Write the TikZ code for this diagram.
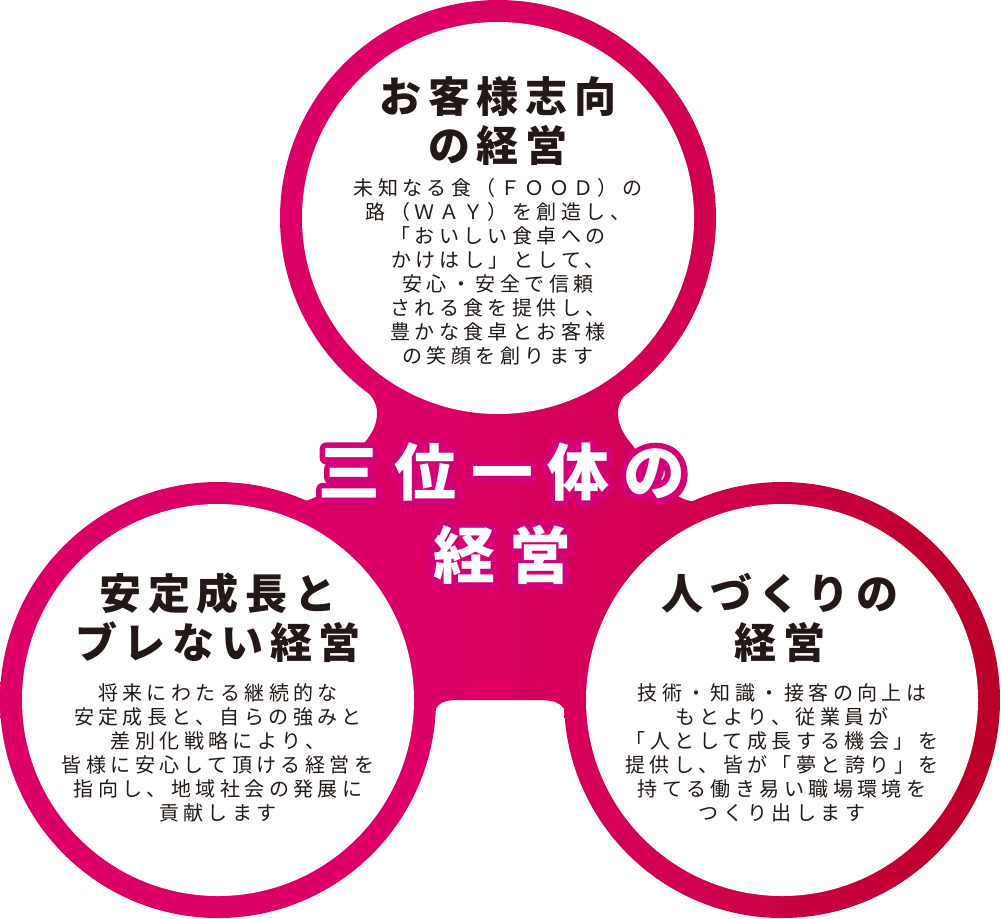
\documentclass[tikz,border=0pt]{standalone}
\usepackage{fontspec}
\newfontfamily\jphead[LetterSpace=16]{Noto Sans CJK JP}
\newfontfamily\jpbody[LetterSpace=22]{Noto Sans CJK JP}
\newfontfamily\jpmid[LetterSpace=23]{Noto Sans CJK JP}
\definecolor{pinkA}{RGB}{220,0,102}
\definecolor{pinkB}{RGB}{208,0,78}
\definecolor{pinkC}{RGB}{186,0,38}
\definecolor{halo}{RGB}{212,0,118}
\definecolor{ink}{RGB}{35,24,21}
\pgfdeclarehorizontalshading{magfade}{100bp}{color(0bp)=(pinkA); color(25bp)=(pinkA); color(47bp)=(pinkA); color(60bp)=(pinkB); color(75bp)=(pinkC); color(100bp)=(pinkC)}
\newcommand\strokeon{\special{pdf:literal direct 2 Tr 3.6 w 1 j 1 J}}
\newcommand\strokeoff{\special{pdf:literal direct 0 Tr}}
\tikzset{
  pinkfill/.style={path picture={\shade[shading=magfade] (0,-5) rectangle (1001,923);}},
  headtext/.style={align=center,inner sep=0pt,text=ink,font=\jphead\bfseries\fontsize{11.95}{13.94}\selectfont},
  bodytext/.style={align=center,inner sep=0pt,text=ink,font=\jpbody\fontsize{5.69}{6.83}\selectfont},
  midtext/.style={align=center,inner sep=0pt,font=\jpmid\bfseries\fontsize{17.6}{23.6}\selectfont}
}
\begin{document}
\begin{tikzpicture}[x=0.01cm,y=-0.01cm]
  \useasboundingbox (0,0) rectangle (1001,918);
  \coordinate (ctop) at (498,218);
  \coordinate (cleft) at (218,700);
  \coordinate (cright) at (782,700);
  % body between the three rings
  \path[pinkfill] (ctop) -- (345,372) .. controls (368,390) and (378,400) .. (377,415)
    .. controls (376,428) and (370,436) .. (362,446) .. controls (345,468) and (330,495) .. (305,501)
    .. controls (292,503) and (282,498) .. (268,490) -- (cleft) -- (433,735) -- (433,725)
    .. controls (433,705) and (440,700) .. (458,700) -- (537,700) .. controls (560,700) and (567,705) .. (567,725)
    -- (567,735) -- (cright) -- (727,490) .. controls (713,498) and (703,503) .. (690,501)
    .. controls (665,495) and (650,468) .. (633,446) .. controls (625,436) and (619,428) .. (618,415)
    .. controls (617,400) and (627,390) .. (650,372) -- cycle;
  \foreach \c in {ctop,cleft,cright} {
    \path[pinkfill] (\c) circle (218);
    \fill[white] (\c) circle (196);
  }
  \node[headtext] (topHead) at (498,121) {お客様志向\\の経営};
  \node[bodytext] (topBody) at (498,272) {未知なる食（ＦＯＯＤ）の\\路（ＷＡＹ）を創造し、\\「おいしい食卓への\\かけはし」として、\\安心・安全で信頼\\される食を提供し、\\豊かな食卓とお客様\\の笑顔を創ります};
  \node[headtext] (leftHead) at (218,618) {安定成長と\\ブレない経営};
  \node[bodytext] (leftBody) at (218,753) {将来にわたる継続的な\\安定成長と、自らの強みと\\差別化戦略により、\\皆様に安心して頂ける経営を\\指向し、地域社会の発展に\\貢献します};
  \node[headtext] (rightHead) at (780,618) {人づくりの\\経営};
  \node[bodytext] (rightBody) at (782,753) {技術・知識・接客の向上は\\もとより、従業員が\\「人として成長する機会」を\\提供し、皆が「夢と誇り」を\\持てる働き易い職場環境を\\つくり出します};
  % outlined title in the middle
  \node[midtext,text=halo] (midHalo) at (502,514) {\strokeon 三位一体の\\経営\strokeoff};
  \node[midtext,text=white] (midTitle) at (502,514) {三位一体の\\経営};
\end{tikzpicture}
\end{document}
